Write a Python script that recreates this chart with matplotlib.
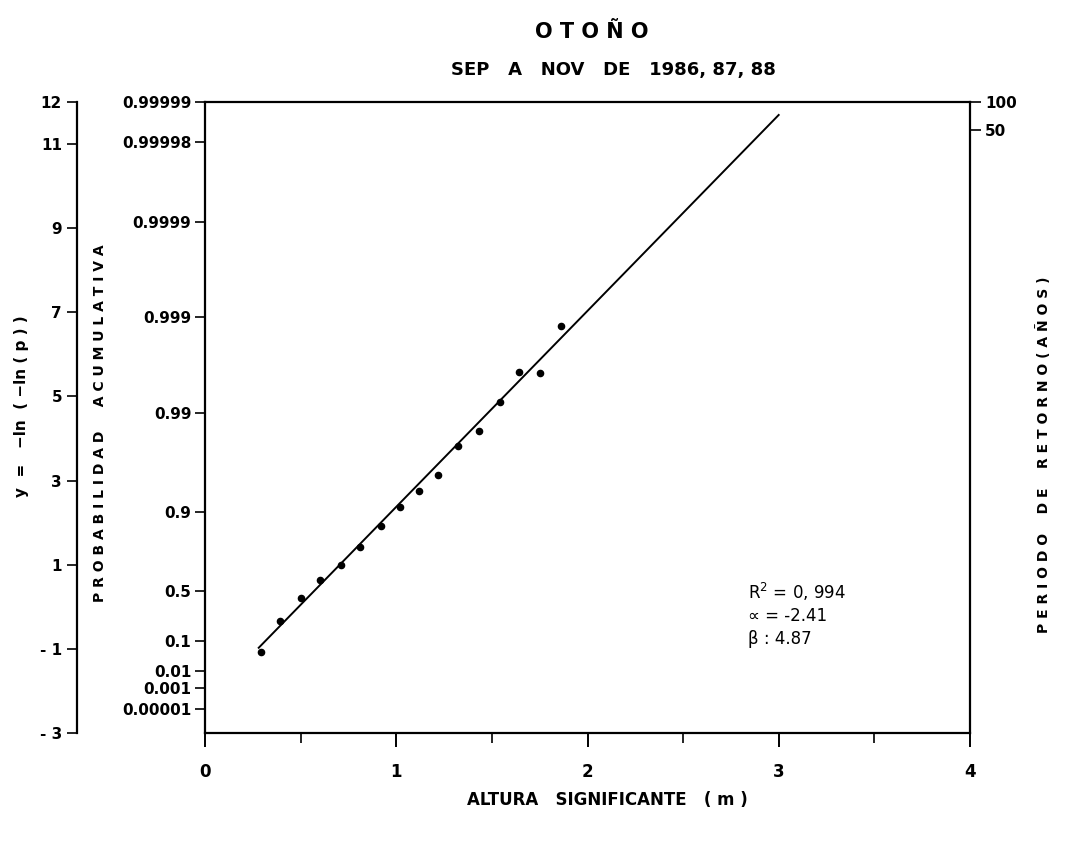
import matplotlib.pyplot as plt
import numpy as np

# datos (variable reducida y = -ln(-ln(p)))
altura = [0.29, 0.39, 0.50, 0.60, 0.71, 0.81, 0.92, 1.02, 1.12, 1.22,
          1.32, 1.43, 1.54, 1.64, 1.75, 1.86]
y_red = [-1.09, -0.34, 0.20, 0.64, 1.00, 1.42, 1.91, 2.38, 2.76, 3.12,
         3.81, 4.19, 4.88, 5.58, 5.56, 6.68]

r2 = 0.994
alfa = -2.41
beta = 4.87
# recta ajustada tal como esta dibujada
x_recta = [0.28, 3.0]
y_recta = [-0.98, 11.7]

# ejes
y_ticks = [12, 11, 9, 7, 5, 3, 1, -1, -3]
prob_labels = ["0.99999", "0.99998", "0.9999", "0.999", "0.99", "0.9",
               "0.5", "0.1", "0.01", "0.001", "0.00001"]
prob_y = [12, 11.05, 9.15, 6.9, 4.6, 2.25, 0.37, -0.83, -1.53, -1.93, -2.44]
periodo_labels = ["100", "50"]
periodo_y = [12, 11.35]
x_major = [0, 1, 2, 3, 4]
x_minor = [0.5, 1.5, 2.5, 3.5]

fuente = {"family": "DejaVu Sans", "weight": "bold"}

fig = plt.figure(figsize=(10.8, 8.46), dpi=100)
fig.patch.set_facecolor("white")

# ---------------- eje principal ----------------
ax = fig.add_axes([0.190, 0.134, 0.708, 0.745])
ax.set_xlim(0, 4)
ax.set_ylim(-3, 12)

ax.plot(x_recta, y_recta, color="black", lw=1.4)
ax.scatter(altura, y_red, s=20, c="black", zorder=3)

for s in ax.spines.values():
    s.set_linewidth(1.6)

ax.set_xticks(x_major)
ax.set_xticklabels([str(v) for v in x_major], fontdict=fuente, fontsize=12)
ax.set_xticks(x_minor, minor=True)
ax.tick_params(axis="x", which="major", direction="out", length=10, width=1.4, pad=12)
ax.tick_params(axis="x", which="minor", direction="out", length=7, width=1.2)

ax.set_yticks(prob_y)
ax.set_yticklabels(prob_labels, fontdict=fuente, fontsize=11)
ax.tick_params(axis="y", which="major", direction="out", length=7, width=1.2, pad=3)

# periodo de retorno a la derecha
axr = ax.twinx()
axr.set_ylim(-3, 12)
axr.set_yticks(periodo_y)
axr.set_yticklabels(periodo_labels, fontdict=fuente, fontsize=11)
axr.tick_params(axis="y", direction="out", length=8, width=1.2, pad=3)
for s in axr.spines.values():
    s.set_visible(False)

ax.text(0.71, 0.224, r"R$^{2}$ = " + ("%.3f" % r2).replace(".", ", "),
        transform=ax.transAxes, fontsize=12, ha="left", va="center")
ax.text(0.71, 0.185, "\u221d = %.2f" % alfa, transform=ax.transAxes, fontsize=12,
        ha="left", va="center")
ax.text(0.71, 0.148, "\u03b2 : %.2f" % beta, transform=ax.transAxes, fontsize=12,
        ha="left", va="center")

# ---------------- eje y reducido (izquierda) ----------------
ax2 = fig.add_axes([0.0715, 0.134, 0.001, 0.745])
ax2.set_ylim(-3, 12)
ax2.set_xticks([])
for k in ["top", "right", "bottom"]:
    ax2.spines[k].set_visible(False)
ax2.spines["left"].set_linewidth(1.6)
ax2.set_yticks(y_ticks)
ax2.set_yticklabels(["- 1" if v == -1 else ("- 3" if v == -3 else str(v)) for v in y_ticks],
                    fontdict=fuente, fontsize=11)
ax2.tick_params(axis="y", direction="out", length=7, width=1.2, pad=4)

# ---------------- textos ----------------
fig.text(0.548, 0.962, "O T O Ñ O", ha="center", va="center", fontsize=15, **fuente)
fig.text(0.568, 0.917, "SEP   A   NOV   DE   1986, 87, 88", ha="center", va="center",
         fontsize=13, **fuente)
fig.text(0.562, 0.054, "ALTURA   SIGNIFICANTE   ( m )", ha="center",
         va="center", fontsize=12, **fuente)
fig.text(0.020, 0.52, "y  =   \u2212ln  ( \u2212ln ( p ) )", rotation=90, ha="center",
         va="center", fontsize=11, **fuente)
fig.text(0.093, 0.50, "P R O B A B I L I D A D     A C U M U L A T I V A", rotation=90,
         ha="center", va="center", fontsize=10, **fuente)
fig.text(0.966, 0.462, "P E R I O D O    D E    R E T O R N O ( A Ñ O S )", rotation=90,
         ha="center", va="center", fontsize=10, **fuente)

fig.savefig("out.png", dpi=100)
